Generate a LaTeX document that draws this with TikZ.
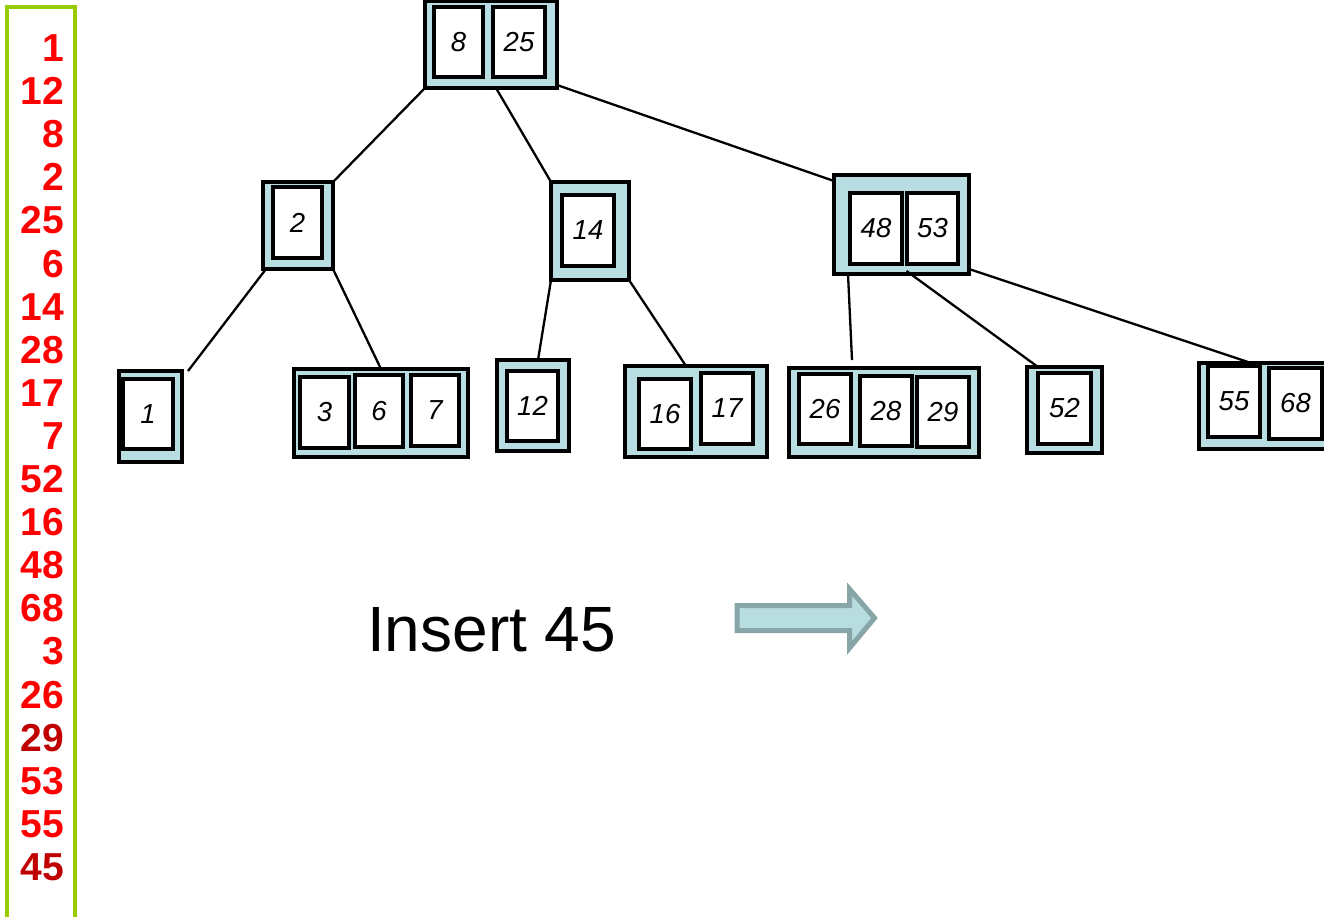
\documentclass[tikz,border=0pt]{standalone}
\usepackage{fontspec}
\setmainfont{Liberation Sans}
\definecolor{nodefill}{HTML}{B9DEE2}
\definecolor{arrowfill}{HTML}{B7DDE0}
\definecolor{arrowline}{HTML}{88A5A7}
\definecolor{listgreen}{HTML}{99CC00}
\definecolor{seqred}{HTML}{FF0000}
\definecolor{seqdark}{HTML}{C00000}
\tikzset{
  outerbox/.style={draw=black, fill=nodefill, line width=3.3pt, inner sep=0pt, outer sep=0pt},
  keybox/.style={draw=black, fill=white, line width=3.1pt, inner sep=0pt, outer sep=0pt,
    font=\fontsize{27.5}{32}\selectfont\itshape},
  edge/.style={line width=2.3pt, black},
  seq/.style={anchor=base east, inner sep=0pt, text=seqred, font=\fontsize{39}{44}\selectfont\bfseries},
  seqd/.style={seq, text=seqdark},
}
\begin{document}
\begin{tikzpicture}[x=1pt,y=-1pt]
\useasboundingbox (0,0) rectangle (1324,916);
\clip (0,0) rectangle (1324,916);
\fill[white] (0,0) rectangle (1324,916);

% sequence list
\draw[listgreen, line width=3.2pt] (7,7) rectangle (75,940);
\node[seq] (s1) at (64,61.5) {1};
\node[seq] (s2) at (64,104.6) {12};
\node[seq] (s3) at (64,147.7) {8};
\node[seq] (s4) at (64,190.8) {2};
\node[seq] (s5) at (64,233.9) {25};
\node[seq] (s6) at (64,277.0) {6};
\node[seq] (s7) at (64,320.1) {14};
\node[seq] (s8) at (64,363.2) {28};
\node[seq] (s9) at (64,406.3) {17};
\node[seq] (s10) at (64,449.4) {7};
\node[seq] (s11) at (64,492.5) {52};
\node[seq] (s12) at (64,535.6) {16};
\node[seq] (s13) at (64,578.7) {48};
\node[seq] (s14) at (64,621.8) {68};
\node[seq] (s15) at (64,664.9) {3};
\node[seq] (s16) at (64,708.0) {26};
\node[seqd] (s17) at (64,751.1) {29};
\node[seq] (s18) at (64,794.2) {53};
\node[seq] (s19) at (64,837.3) {55};
\node[seqd] (s20) at (64,880.4) {45};

% root
\node[outerbox, minimum width=132pt, minimum height=87pt] (root) at (491,44.5) {};
\node[keybox, minimum width=49pt, minimum height=70pt] (k8) at (458.5,42) {8};
\node[keybox, minimum width=52pt, minimum height=70pt] (k25) at (519,42) {25};

% level 1
\node[outerbox, minimum width=70pt, minimum height=87pt] (n2) at (298,225.5) {};
\node[keybox, minimum width=49pt, minimum height=71pt] (k2) at (297.5,222.5) {2};

\node[outerbox, minimum width=78pt, minimum height=98pt] (n14) at (590,231) {};
\node[keybox, minimum width=52pt, minimum height=71pt] (k14) at (588,230.5) {14};

\node[outerbox, minimum width=135pt, minimum height=99pt] (n4853) at (901.5,224.5) {};
\node[keybox, minimum width=52pt, minimum height=71pt] (k48) at (876,228.5) {48};
\node[keybox, minimum width=51pt, minimum height=71pt] (k53) at (932.5,228.5) {53};

% leaves
\node[outerbox, minimum width=63pt, minimum height=91pt] (l1) at (150.5,416.5) {};
\node[keybox, minimum width=50pt, minimum height=70pt] (k1) at (148,414) {1};

\node[outerbox, minimum width=174pt, minimum height=88pt] (l367) at (381,413) {};
\node[keybox, minimum width=49pt, minimum height=71pt] (k3) at (324.5,412.5) {3};
\node[keybox, minimum width=48pt, minimum height=72pt] (k6) at (379,411) {6};
\node[keybox, minimum width=48pt, minimum height=71pt] (k7) at (435,410.5) {7};

\node[outerbox, minimum width=72pt, minimum height=91pt] (l12) at (533,405.5) {};
\node[keybox, minimum width=51pt, minimum height=70pt] (k12) at (532.5,406) {12};

\node[outerbox, minimum width=142pt, minimum height=91pt] (l1617) at (696,411.5) {};
\node[keybox, minimum width=52pt, minimum height=70pt] (k16) at (665,414) {16};
\node[keybox, minimum width=52pt, minimum height=71pt] (k17) at (727,408.5) {17};

\node[outerbox, minimum width=190pt, minimum height=89pt] (l262829) at (884,412.5) {};
\node[keybox, minimum width=52pt, minimum height=70pt] (k26) at (825,409) {26};
\node[keybox, minimum width=52pt, minimum height=70pt] (k28) at (886,411) {28};
\node[keybox, minimum width=52pt, minimum height=70pt] (k29) at (943,412) {29};

\node[outerbox, minimum width=75pt, minimum height=86pt] (l52) at (1064.5,410) {};
\node[keybox, minimum width=53pt, minimum height=71pt] (k52) at (1064.5,408.5) {52};

\node[outerbox, minimum width=140pt, minimum height=86pt] (l5568) at (1269,406) {};
\node[keybox, minimum width=52pt, minimum height=71pt] (k55) at (1234,401.5) {55};
\node[keybox, minimum width=53pt, minimum height=71pt] (k68) at (1295.5,403.5) {68};

% connectors
\coordinate (e1) at (852,360);
\coordinate (e2) at (188,371);
\draw[edge] (root.south west) -- (n2.north east);
\draw[edge] ([xshift=5pt]root.south) -- (n14.north west);
\draw[edge] ([yshift=3pt]root.south east) -- ([yshift=-6pt]n4853.north west);
\draw[edge] ([xshift=3pt]n2.south west) -- (e2);
\draw[edge] (n2.south east) -- (l367.north);
\draw[edge] (n14.south west) -- ([xshift=5pt]l12.north);
\draw[edge] (n14.south east) -- ([xshift=-10pt]l1617.north);
\draw[edge] ([xshift=14pt]n4853.south west) -- (e1);
\draw[edge] ([xshift=5pt,yshift=3pt]n4853.south) -- ([xshift=11pt]l52.north west);
\draw[edge] ([yshift=5pt]n4853.south east) -- (k55.north east);

% insert label and arrow
\node[anchor=base west, inner sep=0pt, font=\fontsize{64}{70}\selectfont] (ins) at (367,651) {Insert 45};
\draw[fill=arrowfill, draw=arrowline, line width=5pt, line join=miter]
  (737,605.5) -- (849.5,605.5) -- (849.5,589) -- (874.5,618) -- (849.5,648) -- (849.5,630.5) -- (737,630.5) -- cycle;
\end{tikzpicture}
\end{document}
